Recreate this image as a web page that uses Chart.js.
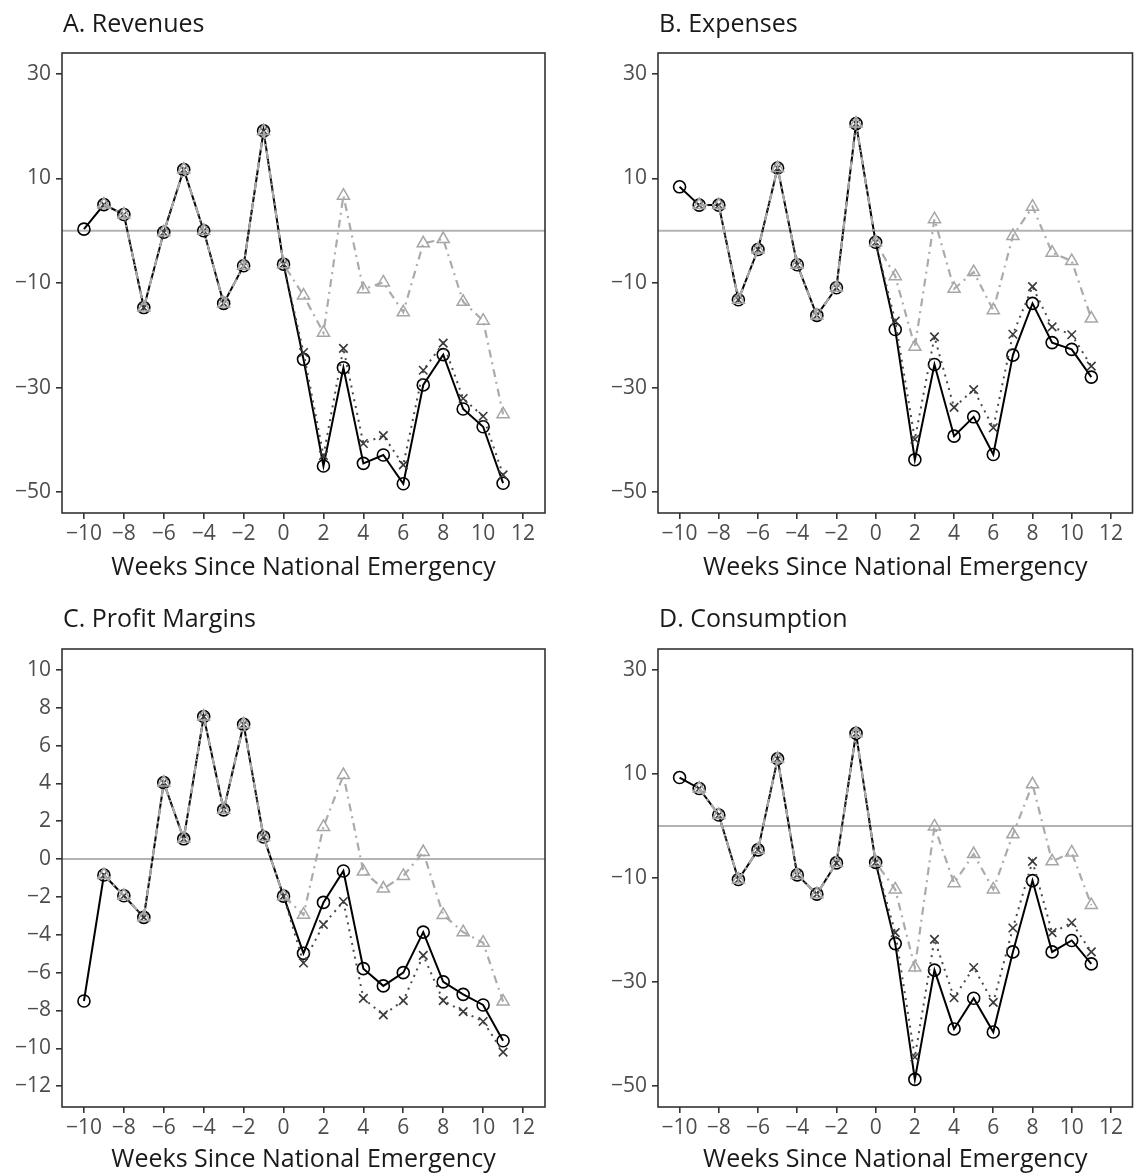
<!DOCTYPE html>
<html>
<head>
<meta charset="utf-8">
<script src="https://cdn.jsdelivr.net/npm/chart.js@4.4.1/dist/chart.umd.min.js"></script>
<style>
  html, body { margin: 0; padding: 0; background: #fff; }
  body { width: 1141px; height: 1175px; position: relative; overflow: hidden; }
  canvas { position: absolute; display: block; }
</style>
</head>
<body>
<canvas id="revenues"></canvas>
<canvas id="expenses"></canvas>
<canvas id="margins"></canvas>
<canvas id="consumption"></canvas>
<script>
// Weeks relative to the national emergency declaration
const weeks = [-10, -9, -8, -7, -6, -5, -4, -3, -2, -1, 0, 1, 2, 3, 4, 5, 6, 7, 8, 9, 10, 11];
const xTickValues = [-10, -8, -6, -4, -2, 0, 2, 4, 6, 8, 10, 12];
const yTicksPercent = [30, 10, -10, -30, -50];
const yTicksMargin = [10, 8, 6, 4, 2, 0, -2, -4, -6, -8, -10, -12];

const panelTitles = ['A. Revenues', 'B. Expenses', 'C. Profit Margins', 'D. Consumption'];
const xAxisTitle = 'Weeks Since National Emergency';

// A. Revenues
const revenuesSolid   = [0.3, 5.0, 3.1, -14.7, -0.3, 11.7, 0.0, -13.9, -6.7, 19.1, -6.4, -24.6, -45.0, -26.2, -44.5, -42.9, -48.4, -29.5, -23.7, -34.1, -37.5, -48.3];
const revenuesDotted  = [null, 5.0, 3.1, -14.7, -0.3, 11.7, 0.0, -13.9, -6.7, 19.1, -6.4, -23.3, -43.0, -22.5, -40.7, -39.2, -44.8, -26.7, -21.5, -32.1, -35.5, -46.7];
const revenuesDashDot = [null, 5.0, 3.1, -14.7, -0.3, 11.7, 0.0, -13.9, -6.7, 19.1, -6.4, -12.4, -19.5, 6.7, -11.2, -9.9, -15.6, -2.4, -1.6, -13.6, -17.2, -35.1];

// B. Expenses
const expensesSolid   = [8.4, 4.9, 4.9, -13.2, -3.6, 12.0, -6.5, -16.2, -10.9, 20.5, -2.2, -18.9, -43.8, -25.6, -39.3, -35.6, -42.8, -23.8, -13.9, -21.4, -22.7, -28.0];
const expensesDotted  = [null, 4.9, 4.9, -13.2, -3.6, 12.0, -6.5, -16.2, -10.9, 20.5, -2.2, -17.3, -39.9, -20.3, -33.8, -30.4, -37.7, -19.8, -10.7, -18.4, -19.9, -25.9];
const expensesDashDot = [null, 4.9, 4.9, -13.2, -3.6, 12.0, -6.5, -16.2, -10.9, 20.5, -2.2, -8.7, -22.2, 2.2, -11.1, -7.9, -15.2, -1.0, 4.6, -4.2, -5.8, -16.8];

// C. Profit Margins
const marginsSolid   = [-7.5, -0.84, -1.94, -3.08, 4.04, 1.07, 7.53, 2.6, 7.12, 1.17, -1.96, -4.98, -2.29, -0.63, -5.79, -6.70, -6.0, -3.86, -6.49, -7.15, -7.71, -9.6];
const marginsDotted  = [null, -0.84, -1.94, -3.08, 4.04, 1.07, 7.53, 2.6, 7.12, 1.17, -1.96, -5.49, -3.46, -2.24, -7.36, -8.23, -7.48, -5.09, -7.48, -8.06, -8.58, -10.2];
const marginsDashDot = [null, -0.84, -1.94, -3.08, 4.04, 1.07, 7.53, 2.6, 7.12, 1.17, -1.96, -2.94, 1.70, 4.44, -0.66, -1.56, -0.89, 0.37, -2.95, -3.86, -4.42, -7.53];

// D. Consumption
const consumptionSolid   = [9.3, 7.2, 2.1, -10.3, -4.6, 12.9, -9.4, -13.1, -7.1, 17.8, -7.0, -22.6, -48.7, -27.7, -39.0, -33.1, -39.6, -24.2, -10.5, -24.2, -22.0, -26.5];
const consumptionDotted  = [null, 7.2, 2.1, -10.3, -4.6, 12.9, -9.4, -13.1, -7.1, 17.8, -7.0, -20.5, -44.4, -21.8, -33.0, -27.2, -33.9, -19.6, -6.8, -20.5, -18.6, -24.2];
const consumptionDashDot = [null, 7.2, 2.1, -10.3, -4.6, 12.9, -9.4, -13.1, -7.1, 17.8, -7.0, -12.2, -27.2, -0.1, -11.0, -5.4, -12.2, -1.6, 8.0, -6.8, -5.1, -15.2];

const FONT = '"Open Sans", "DejaVu Sans", sans-serif';
const fmt = v => (v < 0 ? '\u2212' + Math.abs(v) : String(v));
const toPoints = values => weeks.map((w, i) => ({ x: w, y: values[i] }));

// Horizontal reference line at zero
const zeroLine = {
  id: 'zeroLine',
  beforeDatasetsDraw(chart) {
    const { ctx, chartArea: a, scales: { y } } = chart;
    const py = y.getPixelForValue(0);
    ctx.save();
    ctx.strokeStyle = '#b3b3b3';
    ctx.lineWidth = 2;
    ctx.beginPath();
    ctx.moveTo(a.left, py);
    ctx.lineTo(a.right, py);
    ctx.stroke();
    ctx.restore();
  }
};

// Box around the plotting area
const frame = {
  id: 'frame',
  afterDatasetsDraw(chart) {
    const { ctx, chartArea: a } = chart;
    ctx.save();
    ctx.strokeStyle = '#333333';
    ctx.lineWidth = 1.6;
    ctx.strokeRect(a.left, a.top, a.right - a.left, a.bottom - a.top);
    ctx.restore();
  }
};

// Panel heading, left-aligned with the plotting area
const panelHeading = {
  id: 'panelHeading',
  afterDraw(chart, args, opts) {
    const { ctx, chartArea: a } = chart;
    ctx.save();
    ctx.fillStyle = '#1a1a1a';
    ctx.font = '25px ' + FONT;
    ctx.textAlign = 'left';
    ctx.textBaseline = 'alphabetic';
    ctx.fillText(opts.text, a.left + 1, a.top - opts.gap);
    ctx.restore();
  }
};

function makePanel(id, title, solid, dotted, dashDot, yTicks, yMin, yMax, box) {
  const cv = document.getElementById(id);
  cv.width = box.w; cv.height = box.h;
  cv.style.left = box.x + 'px'; cv.style.top = box.y + 'px';
  cv.style.width = box.w + 'px'; cv.style.height = box.h + 'px';

  const tickColor = '#333333';
  new Chart(cv, {
    type: 'line',
    data: {
      datasets: [
        {
          data: toPoints(dashDot),
          borderColor: '#ababab', borderWidth: 2.2, borderDash: [8, 5, 2, 5],
          pointStyle: 'triangle', pointRadius: 7, pointBorderWidth: 1.5,
          pointBorderColor: '#a6a6a6', pointBackgroundColor: 'rgba(0,0,0,0)',
          tension: 0
        },
        {
          data: toPoints(dotted),
          borderColor: '#4a4a4a', borderWidth: 2, borderDash: [2, 5],
          pointStyle: 'crossRot', pointRadius: 6, pointBorderWidth: 1.6,
          pointBorderColor: '#3a3a3a', pointBackgroundColor: 'rgba(0,0,0,0)',
          tension: 0
        },
        {
          data: toPoints(solid),
          borderColor: '#000000', borderWidth: 2,
          pointStyle: 'circle', pointRadius: 6, pointBorderWidth: 1.6,
          pointBorderColor: '#000000', pointBackgroundColor: 'rgba(0,0,0,0)',
          tension: 0
        }
      ]
    },
    options: {
      responsive: false,
      animation: false,
      events: [],
      layout: { padding: { top: box.top, right: box.right, left: 0, bottom: 0 } },
      plugins: {
        legend: { display: false },
        tooltip: { enabled: false },
        panelHeading: { text: title, gap: box.gap }
      },
      scales: {
        x: {
          type: 'linear', position: 'bottom', min: -11.1, max: 13.1,
          afterBuildTicks: s => { s.ticks = xTickValues.map(v => ({ value: v })); },
          afterFit: s => { s.height = box.h - box.top - box.plotH; },
          border: { display: false },
          grid: { drawOnChartArea: false, drawTicks: true, tickLength: 6, color: tickColor, lineWidth: 1.6 },
          ticks: { color: '#4d4d4d', font: { family: FONT, size: 21 }, padding: 2, maxRotation: 0, autoSkip: false, callback: fmt },
          title: { display: true, text: xAxisTitle, color: '#1a1a1a', font: { family: FONT, size: 25 }, padding: { top: 0, bottom: box.titlePad } }
        },
        y: {
          type: 'linear', position: 'left', min: yMin, max: yMax,
          afterBuildTicks: s => { s.ticks = yTicks.map(v => ({ value: v })); },
          afterFit: s => { s.width = box.left; },
          border: { display: false },
          grid: { drawOnChartArea: false, drawTicks: true, tickLength: 6, color: tickColor, lineWidth: 1.6 },
          ticks: { color: '#4d4d4d', font: { family: FONT, size: 21 }, padding: 5, autoSkip: false, callback: fmt }
        }
      }
    },
    plugins: [zeroLine, frame, panelHeading]
  });
}

makePanel('revenues', panelTitles[0], revenuesSolid, revenuesDotted, revenuesDashDot, yTicksPercent, -54, 34,
  { x: 0, y: 0, w: 570, h: 590, left: 62, top: 53, right: 25, plotH: 460, gap: 21, titlePad: 7 });
makePanel('expenses', panelTitles[1], expensesSolid, expensesDotted, expensesDashDot, yTicksPercent, -54, 34,
  { x: 570, y: 0, w: 571, h: 590, left: 88, top: 53, right: 1, plotH: 460, gap: 21, titlePad: 7 });
makePanel('margins', panelTitles[2], marginsSolid, marginsDotted, marginsDashDot, yTicksMargin, -13.1, 11.1,
  { x: 0, y: 590, w: 570, h: 585, left: 62, top: 59, right: 25, plotH: 458, gap: 22, titlePad: 0 });
makePanel('consumption', panelTitles[3], consumptionSolid, consumptionDotted, consumptionDashDot, yTicksPercent, -54, 34,
  { x: 570, y: 590, w: 571, h: 585, left: 88, top: 59, right: 1, plotH: 458, gap: 22, titlePad: 0 });
</script>
</body>
</html>
